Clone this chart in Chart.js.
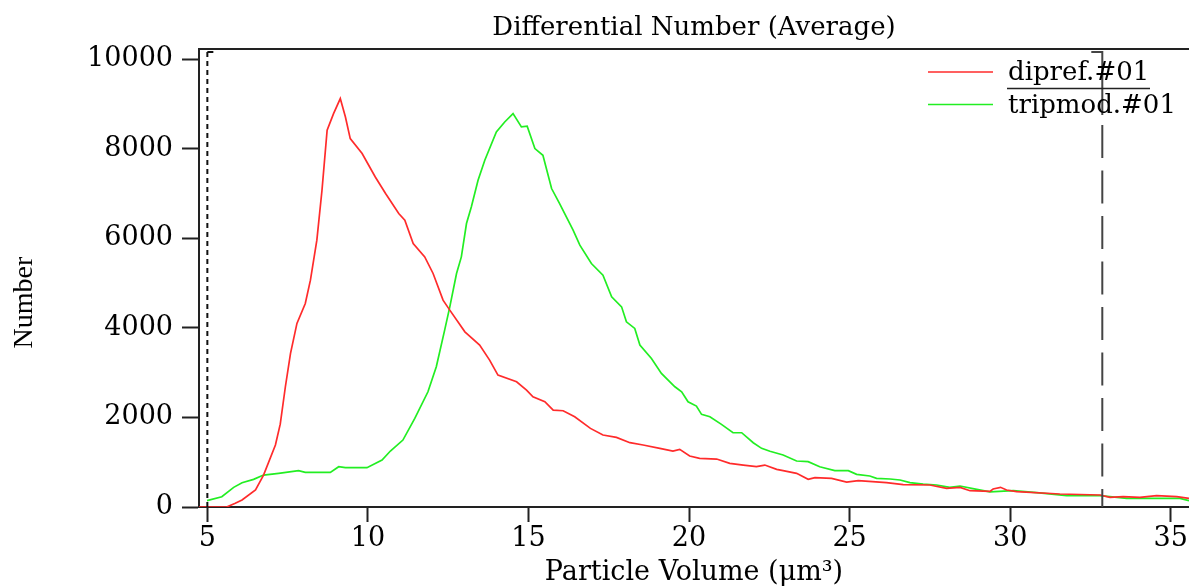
<!DOCTYPE html>
<html>
<head>
<meta charset="utf-8">
<script src="https://cdn.jsdelivr.net/npm/chart.js@4/dist/chart.umd.min.js"></script>
<style>
  body { margin: 0; background: #fff; }
  #wrap { width: 1189px; height: 588px; }
</style>
</head>
<body>
<div id="wrap"><canvas id="diffChart" width="1189" height="588"></canvas></div>
<script>
// values
const redX = [4.74, 5.60, 5.87, 6.08, 6.50, 6.75, 7.12, 7.27, 7.43, 7.59, 7.79, 8.05, 8.21, 8.41, 8.57, 8.73, 8.93, 9.14, 9.30, 9.45,
  9.82, 10.23, 10.55, 10.96, 11.15, 11.41, 11.77, 12.03, 12.34, 12.55, 13.02, 13.48, 13.79, 14.05, 14.63, 14.94, 15.14, 15.51, 15.77, 16.08,
  16.44, 16.93, 17.32, 17.74, 18.16, 18.57, 19.09, 19.50, 19.71, 20.02, 20.33, 20.86, 21.27, 21.69, 22.10, 22.36, 22.73, 22.93, 23.35, 23.71,
  23.92, 24.44, 24.91, 25.27, 26.15, 26.67, 27.50, 28.02, 28.44, 28.75, 29.37, 29.47, 29.70, 29.89, 30.20, 31.55, 32.80, 33.11, 33.52, 34.04,
  34.56, 35.19, 35.57];
const redY = [0, 0, 83, 156, 380, 714, 1384, 1850, 2686, 3430, 4100, 4546, 5067, 5960, 7075, 8415, 8787, 9122, 8711, 8229,
  7894, 7372, 7001, 6555, 6406, 5886, 5587, 5216, 4620, 4397, 3913, 3616, 3281, 2946, 2797, 2611, 2462, 2351, 2165, 2150,
  2016, 1756, 1607, 1555, 1436, 1384, 1310, 1250, 1287, 1138, 1086, 1071, 975, 937, 900, 937, 841, 811, 752, 618,
  655, 640, 558, 588, 543, 498, 491, 417, 439, 364, 350, 402, 439, 379, 342, 290, 268, 216, 230, 216,
  253, 230, 194];

const greenX = [4.99, 5.45, 5.82, 6.08, 6.44, 6.75, 7.22, 7.84, 8.05, 8.83, 9.09, 9.30, 9.97, 10.44, 10.70, 11.09, 11.46, 11.87, 12.13, 12.39,
  12.55, 12.76, 12.91, 13.07, 13.22, 13.43, 13.64, 14.00, 14.26, 14.52, 14.78, 14.96, 15.20, 15.45, 15.72, 15.97, 16.39, 16.60, 16.96, 17.32,
  17.59, 17.90, 18.05, 18.31, 18.47, 18.83, 19.14, 19.56, 19.77, 19.97, 20.23, 20.39, 20.65, 21.01, 21.37, 21.64, 22.00, 22.26, 22.52, 22.93,
  23.35, 23.71, 24.07, 24.54, 24.96, 25.22, 25.63, 25.84, 26.26, 26.57, 26.88, 27.29, 27.71, 28.12, 28.44, 28.96, 29.37, 30.10, 30.83, 31.76,
  32.80, 33.63, 34.25, 35.29, 35.57];
const greenY = [141, 230, 439, 543, 618, 714, 752, 811, 774, 774, 900, 878, 878, 1049, 1250, 1495, 1979, 2574, 3132, 3951,
  4471, 5216, 5587, 6332, 6703, 7299, 7745, 8377, 8600, 8787, 8489, 8504, 8006, 7857, 7113, 6778, 6183, 5848, 5439, 5178,
  4694, 4471, 4136, 3988, 3616, 3319, 2984, 2686, 2574, 2351, 2254, 2069, 2016, 1845, 1659, 1659, 1436, 1310, 1245, 1161,
  1027, 1012, 900, 811, 811, 729, 692, 640, 625, 603, 543, 513, 491, 439, 469, 395, 340, 364, 320, 253,
  253, 194, 194, 194, 141];

const xTicks = [5, 10, 15, 20, 25, 30, 35];
const yTicks = [0, 2000, 4000, 6000, 8000, 10000];
const cursorX = [5, 32.87]; // the two cursor lines (dotted A, dashed B)

Chart.defaults.font.family = "'DejaVu Serif', serif";
Chart.defaults.color = "#000";

// frame top line, cursors and the legend box in the upper right
const framePlugin = {
  id: "frame",
  afterDatasetsDraw(chart) {
    const ctx = chart.ctx;
    const a = chart.chartArea;
    const xs = chart.scales.x;
    ctx.save();

    ctx.strokeStyle = "#222";
    ctx.lineWidth = 2;
    ctx.beginPath();
    ctx.moveTo(a.left - 1, a.top);
    ctx.lineTo(a.right, a.top);
    ctx.stroke();

    // cursor A: short dots, small hook to the right at the top
    const ax = xs.getPixelForValue(cursorX[0]);
    ctx.strokeStyle = "#111";
    ctx.setLineDash([5, 4]);
    ctx.beginPath();
    ctx.moveTo(ax, a.top + 3);
    ctx.lineTo(ax, a.bottom);
    ctx.stroke();
    ctx.setLineDash([]);
    ctx.beginPath();
    ctx.moveTo(ax, a.top + 3);
    ctx.lineTo(ax + 6, a.top + 3);
    ctx.stroke();

    // cursor B: long dashes, hook to the left at the top
    const bx = xs.getPixelForValue(cursorX[1]);
    ctx.strokeStyle = "#444";
    ctx.beginPath();
    ctx.moveTo(bx - 11, a.top + 3);
    ctx.lineTo(bx, a.top + 3);
    ctx.lineTo(bx, a.top + 66);
    ctx.stroke();
    ctx.setLineDash([33, 12.5]);
    ctx.beginPath();
    ctx.moveTo(bx, a.top + 76);
    ctx.lineTo(bx, a.bottom);
    ctx.stroke();
    ctx.setLineDash([]);

    // legend
    const lx = a.right - 261;
    const tx = a.right - 181;
    ctx.font = "26px 'DejaVu Serif'";
    ctx.textBaseline = "alphabetic";
    ctx.textAlign = "left";
    chart.data.datasets.forEach((ds, i) => {
      const ly = a.top + 23 + i * 32.5;
      ctx.strokeStyle = ds.borderColor;
      ctx.lineWidth = 1.6;
      ctx.beginPath();
      ctx.moveTo(lx, ly);
      ctx.lineTo(lx + 65, ly);
      ctx.stroke();
      ctx.fillStyle = "#000";
      ctx.fillText(ds.label, tx, ly + 8);
    });
    ctx.strokeStyle = "#222";
    ctx.lineWidth = 1.5;
    ctx.beginPath();
    ctx.moveTo(tx - 1, a.top + 39.5);
    ctx.lineTo(tx + 142, a.top + 39.5);
    ctx.stroke();

    ctx.restore();
  },
};

const ctx = document.getElementById("diffChart").getContext("2d");
const diffChart = new Chart(ctx, {
  type: "line",
  data: {
    datasets: [
      {
        label: "dipref.#01",
        data: redX.map((x, i) => ({ x: x, y: redY[i] })),
        borderColor: "#ff2b2b",
        borderWidth: 1.7,
        pointRadius: 0,
        tension: 0,
      },
      {
        label: "tripmod.#01",
        data: greenX.map((x, i) => ({ x: x, y: greenY[i] })),
        borderColor: "#22ee22",
        borderWidth: 1.7,
        pointRadius: 0,
        tension: 0,
      },
    ],
  },
  options: {
    responsive: false,
    animation: false,
    layout: { padding: 0 },
    scales: {
      x: {
        type: "linear",
        min: 4.74,
        max: 35.57,
        afterBuildTicks: (s) => { s.ticks = xTicks.map((v) => ({ value: v })); },
        afterFit: (s) => { s.height = 81; },
        grid: { drawOnChartArea: false, tickLength: 15, tickColor: "#222", tickWidth: 2 },
        border: { display: true, color: "#222", width: 2 },
        ticks: { color: "#000", font: { size: 27 }, padding: 1, maxRotation: 0, autoSkip: false, callback: (v) => String(v) },
        title: { display: true, text: "Particle Volume (μm³)", color: "#000", font: { size: 27, lineHeight: 1.1 }, padding: 0 },
      },
      y: {
        min: 0,
        max: 10230,
        afterBuildTicks: (s) => { s.ticks = yTicks.map((v) => ({ value: v })); },
        afterFit: (s) => { s.width = 199; },
        grid: { drawOnChartArea: false, tickLength: 17, tickColor: "#222", tickWidth: 2 },
        border: { display: true, color: "#222", width: 2 },
        ticks: { color: "#000", font: { size: 27 }, padding: 9, callback: (v) => String(v) },
        title: {
          display: true,
          // trailing spaces push the word down a little, as in the original
          text: "Number       ",
          color: "#000",
          font: { family: "'Liberation Serif', serif", size: 28, lineHeight: 1.2 },
          padding: { top: 8, bottom: 0 },
        },
      },
    },
    plugins: {
      legend: { display: false },
      tooltip: { enabled: false },
      title: {
        display: true,
        text: "Differential Number (Average)",
        fullSize: false,
        color: "#000",
        font: { size: 26, weight: "normal", lineHeight: 1.2 },
        padding: { top: 12.4, bottom: 5.4 },
      },
    },
  },
  plugins: [framePlugin],
});
</script>
</body>
</html>
